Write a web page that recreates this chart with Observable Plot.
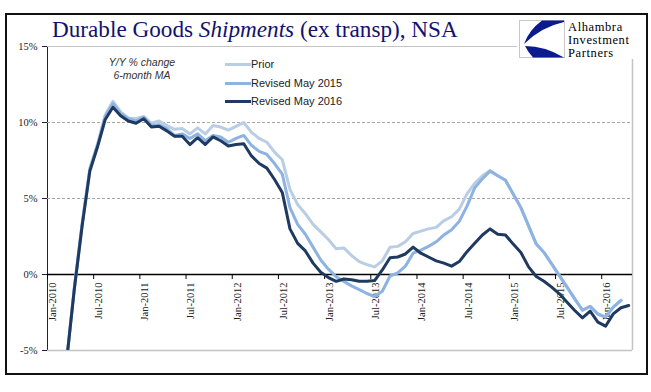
<!DOCTYPE html>
<html>
<head>
<meta charset="utf-8">
<script src="https://cdn.jsdelivr.net/npm/d3@7"></script>
<script src="https://cdn.jsdelivr.net/npm/@observablehq/plot@0.6"></script>
<style>
  body { margin: 0; background: #fff; }
  #wrap { position: relative; width: 651px; height: 392px; overflow: hidden; background: #fff; }
  #chart { position: absolute; left: 0; top: 0; }
  #border { position: absolute; left: 5px; top: 13px; width: 643px; height: 362px; box-sizing: border-box; border: 2px solid #111; pointer-events: none; }
  #title { position: absolute; left: 52px; top: 18px; font-family: "Liberation Serif", serif; font-size: 23.2px; line-height: 23px; color: #12126e; white-space: nowrap; }
  #note { position: absolute; left: 92px; top: 56px; width: 100px; text-align: center; font-family: "Liberation Sans", Arial, sans-serif; font-style: italic; font-size: 10.5px; line-height: 12.5px; color: #333; }
  .leg { position: absolute; left: 224px; height: 13px; line-height: 13px; font-family: "Liberation Sans", Arial, sans-serif; font-size: 11px; color: #222; white-space: nowrap; }
  .leg svg { vertical-align: top; }
  #logo { position: absolute; left: 517px; top: 17px; width: 124px; height: 42px; background: #fff; }
  #logo .txt { position: absolute; left: 51px; font-family: "Liberation Serif", serif; font-size: 12.5px; line-height: 12px; height: 12px; letter-spacing: 0.6px; color: #000; white-space: nowrap; }
</style>
</head>
<body>
<div id="wrap">
  <div id="chart"></div>
  <div id="border"></div>
  <div id="title">Durable Goods <i>Shipments</i> (ex transp), NSA</div>
  <div id="note">Y/Y % change<br>6-month MA</div>
  <div id="legend"></div>
  <div id="logo">
    <svg width="48" height="42" style="position:absolute;left:0;top:0">
      <rect x="2.5" y="3.5" width="45" height="37" fill="#fff" stroke="#c8c8c8" stroke-width="1"/>
      <path d="M25,3.5 L47,3.5 L47,5 Q24,10 7,27 Q12,13 25,3.5 Z" fill="#0b1a8e"/>
      <path d="M8,29 Q28,29 47,40.5 L16,40.5 Q11,35 8,29 Z" fill="#0b1a8e"/>
    </svg>
    <div class="txt" style="top:4px">Alhambra</div>
    <div class="txt" style="top:17px">Investment</div>
    <div class="txt" style="top:30px">Partners</div>
  </div>
</div>
<script>
// Month index 0 = Jan-2010 ... 75 = Apr-2016
const tickLabels = ["Jan-2010","Jul-2010","Jan-2011","Jul-2011","Jan-2012","Jul-2012","Jan-2013","Jul-2013","Jan-2014","Jul-2014","Jan-2015","Jul-2015","Jan-2016"];
const tickMonths = [0,6,12,18,24,30,36,42,48,54,60,66,72];
const yTicks = [-5,0,5,10,15];

const seriesNames = ["Prior","Revised May 2015","Revised May 2016"];
const seriesColors = ["#b9cde5","#8db3e2","#1f3a60"];

const prior = [null,null,-5.6,-0.8,3.4,7.0,8.6,10.5,11.4,10.7,10.3,10.25,10.4,9.95,10.1,9.8,9.55,9.6,9.25,9.65,9.25,9.8,9.7,9.5,9.75,10.0,9.35,8.95,8.7,8.05,7.55,5.6,4.6,4.0,3.3,2.8,2.3,1.7,1.75,1.25,0.85,0.65,0.5,0.9,1.8,1.85,2.15,2.7,2.85,3.0,3.1,3.55,3.8,4.3,5.3,6.0,6.5,6.85,6.5,6.2,5.3,4.4,3.2,2.0,1.45,0.7,-0.07,-0.83,-1.6,-2.35,-2.1,-2.6,-2.8,-2.15,-1.7,null];
const revised2015 = [null,null,-5.6,-0.85,3.3,6.9,8.5,10.4,11.25,10.6,10.25,10.1,10.35,9.8,9.85,9.6,9.15,9.25,8.95,9.25,8.8,9.15,9.05,8.7,8.95,9.15,8.5,8.1,7.9,7.3,6.6,4.4,3.3,2.65,1.8,0.95,0.35,-0.15,-0.45,-0.75,-1.0,-1.25,-1.45,-1.1,-0.1,0.1,0.55,1.4,1.6,1.85,2.15,2.6,2.95,3.5,4.5,5.7,6.3,6.8,6.5,6.2,5.3,4.4,3.2,2.0,1.45,0.7,-0.07,-0.83,-1.6,-2.35,-2.1,-2.6,-2.8,-2.15,-1.7,null];
const revised2016 = [null,null,-5.6,-0.9,3.2,6.8,8.4,10.2,11.0,10.45,10.1,9.95,10.25,9.7,9.75,9.45,9.1,9.1,8.55,9.0,8.55,9.05,8.8,8.45,8.55,8.6,7.8,7.3,7.0,6.25,5.4,3.0,2.05,1.55,0.75,0.15,-0.2,-0.45,-0.3,-0.35,-0.45,-0.45,-0.4,0.3,1.1,1.15,1.35,1.8,1.4,1.15,0.9,0.75,0.55,0.85,1.5,2.05,2.6,3.0,2.65,2.6,2.0,1.45,0.5,-0.13,-0.44,-0.83,-1.27,-1.82,-2.37,-2.85,-2.41,-3.13,-3.4,-2.59,-2.19,-2.04];

const allSeries = [prior, revised2015, revised2016];
const rows = allSeries.flatMap((arr, s) =>
  arr.map((v, i) => ({m: i + 0.5, v, s: seriesNames[s]})).filter(d => d.v != null));

const serif = "Liberation Serif, serif";

const chart = Plot.plot({
  width: 651,
  height: 392,
  marginLeft: 47,
  marginRight: 19,
  marginTop: 46,
  marginBottom: 42,
  style: {background: "transparent", fontFamily: serif, fontSize: "10.5px", color: "#222", overflow: "visible"},
  x: {domain: [0, 76], axis: null},
  y: {domain: [-5, 15], ticks: yTicks, tickFormat: d => d + "%", tickSize: 5, tickPadding: 5, line: true, label: null},
  color: {domain: seriesNames, range: seriesColors},
  marks: [
    Plot.ruleY([5, 10], {stroke: "#a8a8a8", strokeDasharray: "3,2", strokeWidth: 1}),
    Plot.ruleY([15], {stroke: "#c4c4c4", strokeWidth: 1.2}),
    Plot.ruleY([-5], {stroke: "#c4c4c4", strokeWidth: 1.5}),
    Plot.ruleX([76], {stroke: "#c4c4c4", strokeWidth: 1.5}),
    Plot.ruleY([0], {stroke: "#000", strokeWidth: 1.3}),
    Plot.ruleX(tickMonths, {x: d => d, y1: 0, y2: -0.33, stroke: "#000"}),
    Plot.text(tickMonths, {x: d => d, y: 0, text: (d, i) => tickLabels[i], rotate: -90, textAnchor: "end", dx: 5, dy: 8, fontFamily: serif, fontSize: 10.5, fill: "#222"}),
    Plot.line(rows, {x: "m", y: "v", z: "s", stroke: "s", strokeWidth: 3, clip: true, strokeLinejoin: "round"})
  ]
});
document.getElementById("chart").appendChild(chart);

// Legend
const legY = [58, 77, 95];
const leg = document.getElementById("legend");
seriesNames.forEach((name, k) => {
  const div = document.createElement("div");
  div.className = "leg";
  div.style.top = legY[k] + "px";
  div.innerHTML = `<svg width="27" height="13"><line x1="1" x2="27" y1="6.5" y2="6.5" stroke="${seriesColors[k]}" stroke-width="3"/></svg>${name}`;
  leg.appendChild(div);
});
</script>
</body>
</html>
